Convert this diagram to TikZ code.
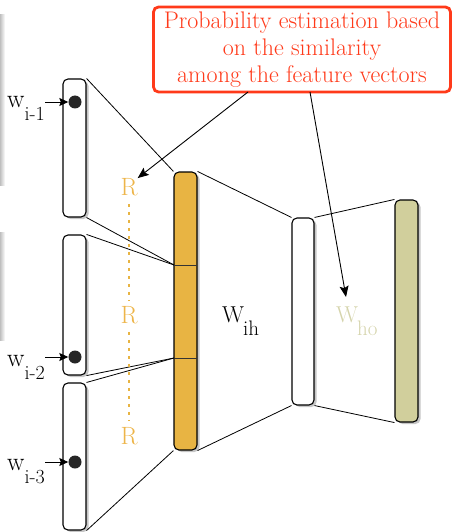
\documentclass[tikz,border=0pt]{standalone}
\usetikzlibrary{arrows.meta,shadows}
\definecolor{bargold}{HTML}{E8B443}
\definecolor{rlabel}{HTML}{EDB54A}
\definecolor{olivebar}{HTML}{D1CF9C}
\definecolor{wholabel}{HTML}{D5D4AC}
\definecolor{notered}{HTML}{FF3A1A}
\newcommand\wlab[1]{\fontsize{26}{26}\selectfont w\raisebox{-13pt}{\fontsize{20}{20}\selectfont #1}}
\newcommand\Wlab[1]{\fontsize{23}{23}\selectfont W\kern-1pt\raisebox{-13pt}{\fontsize{21}{21}\selectfont #1}}
\begin{document}
\begin{tikzpicture}[x=1pt,y=-1pt,
  vec/.style={draw, line width=1.1pt, rounded corners=5pt, fill=white, inner sep=0pt,
    drop shadow={shadow xshift=2.5pt, shadow yshift=-2pt, opacity=0.45}},
  wire/.style={line width=0.8pt},
  pointer/.style={line width=0.9pt, -{Stealth[length=11pt,width=9pt,inset=2pt]}},
  small pointer/.style={line width=0.9pt, -{Stealth[length=9pt,width=8pt,inset=1.5pt]}},
  dotnode/.style={circle, fill=black!85, inner sep=0pt, minimum size=13pt},
  rtext/.style={text=rlabel, inner sep=0pt, font=\fontsize{25}{25}\selectfont},
  lab/.style={inner sep=0pt, anchor=base west}]
\useasboundingbox (0,0) rectangle (453,532);
% left edge partial shadows
\fill[left color=gray!50, right color=white] (0,15) rectangle (5,185);
\fill[left color=gray!50, right color=white] (0,232) rectangle (5,340);
% input vectors
\node[vec, minimum width=23pt, minimum height=138pt] (b1) at (74.5,148) {};
\node[vec, minimum width=23pt, minimum height=140pt] (b2) at (74.5,305) {};
\node[vec, minimum width=23pt, minimum height=147pt] (b3) at (74.5,456.5) {};
% projection layer
\node[vec, fill=bargold, minimum width=23pt, minimum height=278pt] (o) at (185.5,311) {};
\coordinate (d1l) at (174,265); \coordinate (d1r) at (197,265);
\coordinate (d2l) at (174,358); \coordinate (d2r) at (197,358);
\draw[line width=1pt, black!80] (d1l) -- (d1r);
\draw[line width=1pt, black!80] (d2l) -- (d2r);
% hidden and output
\node[vec, minimum width=22pt, minimum height=187pt] (h) at (303,311.5) {};
\node[vec, fill=olivebar, minimum width=23pt, minimum height=222pt] (y) at (406.5,311) {};
% dots
\node[dotnode] (p1) at (75,102) {};
\node[dotnode] (p2) at (75,357) {};
\node[dotnode] (p3) at (75,462) {};
% word labels
\node[lab] (l1) at (7,108) {\wlab{i-1}};
\node[lab] (l2) at (7,366) {\wlab{i-2}};
\node[lab] (l3) at (7,470) {\wlab{i-3}};
\coordinate (a1) at (45,102);
\coordinate (a2) at (45,357);
\coordinate (a3) at (45,462);
\draw[small pointer] (a1) -- (p1.west);
\draw[small pointer] (a2) -- (p2.west);
\draw[small pointer] (a3) -- (p3.west);
% connectors
\draw[wire] (b1.north east) -- (o.north west);
\draw[wire] (b1.south east) -- (d1l);
\draw[wire] (b2.north east) -- (d1l);
\draw[wire] (b2.south east) -- (d2l);
\draw[wire] (b3.north east) -- (d2l);
\draw[wire] (b3.south east) -- (o.south west);
\draw[wire] (o.north east) -- (h.north west);
\draw[wire] (o.south east) -- (h.south west);
\draw[wire] (h.north east) -- (y.north west);
\draw[wire] (h.south east) -- (y.south west);
% R labels and dotted line
\node[rtext] (r1) at (129,187) {R};
\node[rtext] (r2) at (129,315) {R};
\node[rtext] (r3) at (129,436) {R};
\draw[bargold, line width=2.6pt, dash pattern=on 3pt off 5pt] ([yshift=-8pt]r1.south) -- ([yshift=6pt]r2.north);
\draw[bargold, line width=2.6pt, dash pattern=on 3pt off 5pt] ([yshift=-8pt]r2.south) -- ([yshift=6pt]r3.north);
% weight labels
\node[lab] (wih) at (222,322) {\Wlab{ih}};
\node[lab, text=wholabel] (who) at (336,322) {\Wlab{ho}};
% note
\node[draw=notered, line width=2.8pt, rounded corners=5pt, fill=white, text=notered,
  minimum width=297pt, minimum height=85pt, align=center, inner sep=1pt,
  font=\fontsize{24}{27}\selectfont] (note) at (302,49.5)
  {Probability estimation based\\on the similarity\\among the feature vectors};
\coordinate (n1) at (248,92);
\coordinate (n2) at (310,92);
\coordinate (wt) at (346,297);
\draw[pointer] (n1) -- (r1.north east);
\draw[pointer] (n2) -- (wt);
\end{tikzpicture}
\end{document}
